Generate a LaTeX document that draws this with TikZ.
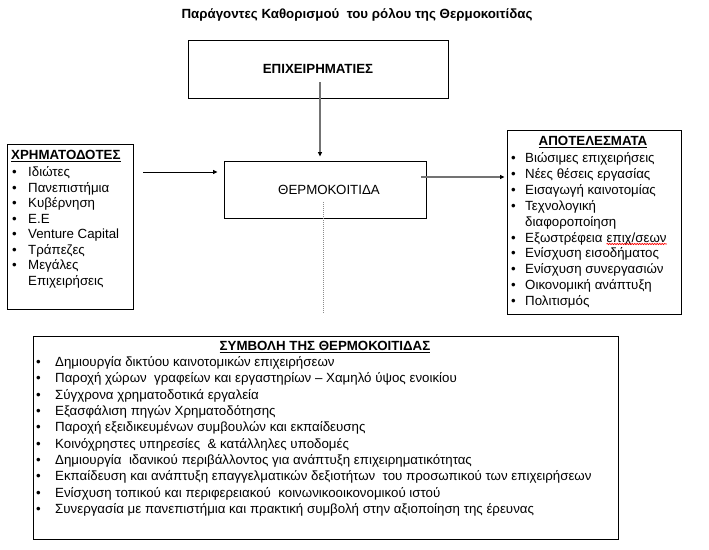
\documentclass[tikz,border=0pt]{standalone}
\usepackage{fontspec}
\setmainfont{Liberation Sans}
\usetikzlibrary{arrows.meta,decorations.pathmorphing}
\begin{document}
\begin{tikzpicture}[x=1pt,y=-1pt,
  font=\fontsize{13.3}{15.5}\selectfont,
  box/.style={draw, line width=1pt, inner sep=0pt},
  item/.style={anchor=base west, inner sep=0pt},
  bul/.style={anchor=base west, inner sep=0pt},
  hd/.style={inner sep=0pt, font=\fontsize{13.3}{15.5}\selectfont\bfseries},
  tipk/.style={-{Triangle[length=4.5pt,width=4pt,color=black]}},
  grayline/.style={draw=black!55, line width=1.3pt}]
\useasboundingbox (0,0) rectangle (709,549);

% title
\node[hd, anchor=base] (title) at (357,18) {Παράγοντες Καθορισμού\ \ του ρόλου της Θερμοκοιτίδας};

% main boxes
\node[box, minimum width=260pt, minimum height=58pt, font=\fontsize{13.3}{15.5}\selectfont\bfseries] (epi) at (318,69) {ΕΠΙΧΕΙΡΗΜΑΤΙΕΣ};
\node[box, minimum width=202pt, minimum height=57pt] (therm) at (325,189.5) {\hspace{8pt}ΘΕΡΜΟΚΟΙΤΙΔΑ};
\node[box, minimum width=126pt, minimum height=165pt] (chr) at (70,226.5) {};
\node[box, minimum width=174pt, minimum height=184pt] (apo) at (594,222) {};
\node[box, minimum width=585pt, minimum height=203pt] (sym) at (325.5,437.5) {};

% left list
\node[hd, anchor=base west] (chrh) at (11,159.6) {\underline{ΧΡΗΜΑΤΟΔΟΤΕΣ}};
\foreach \t [count=\i from 0] in {Ιδιώτες, Πανεπιστήμια, Κυβέρνηση, Ε.Ε, Venture Capital, Τράπεζες, Μεγάλες}{
  \node[bul] (lb\i) at (12,{176.5+15.5*\i}) {•};
  \node[item] (l\i) at (28,{176.5+15.5*\i}) {\t};
}
\node[item] (l7) at (28,{176.5+15.5*7}) {Επιχειρήσεις};

% right list
\node[hd, anchor=base] (apoh) at (593,145.6) {\underline{ΑΠΟΤΕΛΕΣΜΑΤΑ}};
\foreach \i in {0,1,2,3,5,6,7,8,9}{
  \node[bul] (rb\i) at (511,{162.5+15.9*\i}) {•};
}
\node[item] (r0) at (525,{162.5+15.9*0}) {Βιώσιμες επιχειρήσεις};
\node[item] (r1) at (525,{162.5+15.9*1}) {Νέες θέσεις εργασίας};
\node[item] (r2) at (525,{162.5+15.9*2}) {Εισαγωγή καινοτομίας};
\node[item] (r3) at (525,{162.5+15.9*3}) {Τεχνολογική};
\node[item] (r4) at (525,{162.5+15.9*4}) {διαφοροποίηση};
\node[item] (r5) at (525,{162.5+15.9*5}) {Εξωστρέφεια};
\node[item] (r5b) at ([xshift=3.7pt]r5.base east) {επιχ/σεων};
\node[item] (r6) at (525,{162.5+15.9*6}) {Ενίσχυση εισοδήματος};
\node[item] (r7) at (525,{162.5+15.9*7}) {Ενίσχυση συνεργασιών};
\node[item] (r8) at (525,{162.5+15.9*8}) {Οικονομική ανάπτυξη};
\node[item] (r9) at (525,{162.5+15.9*9}) {Πολιτισμός};
\draw[red, line width=0.6pt, decorate, decoration={snake, amplitude=0.7pt, segment length=2.5pt}]
  ([yshift=-2pt]r5b.base west) -- ([yshift=-2pt]r5b.base east);

% bottom list
\node[hd, anchor=base] (symh) at (325,350.6) {\underline{ΣΥΜΒΟΛΗ ΤΗΣ ΘΕΡΜΟΚΟΙΤΙΔΑΣ}};
\foreach \t [count=\i from 0] in {
  Δημιουργία δικτύου καινοτομικών επιχειρήσεων,
  Παροχή χώρων\ \ γραφείων και εργαστηρίων – Χαμηλό ύψος ενοικίου,
  Σύγχρονα χρηματοδοτικά εργαλεία,
  Εξασφάλιση πηγών Χρηματοδότησης,
  Παροχή εξειδικευμένων συμβουλών και εκπαίδευσης,
  Κοινόχρηστες υπηρεσίες\ \ \& κατάλληλες υποδομές,
  Δημιουργία\ \ ιδανικού περιβάλλοντος για ανάπτυξη επιχειρηματικότητας,
  Εκπαίδευση και ανάπτυξη επαγγελματικών δεξιοτήτων\ \ του προσωπικού των επιχειρήσεων,
  Ενίσχυση τοπικού και περιφερειακού\ \ κοινωνικοοικονομικού ιστού,
  Συνεργασία με πανεπιστήμια και πρακτική συμβολή στην αξιοποίηση της έρευνας}{
  \node[bul] (bb\i) at (36,{366.5+16.33*\i}) {•};
  \node[item] (b\i) at (55,{366.5+16.33*\i}) {\t};
}

% connectors
\coordinate (a1s) at (320,82);
\draw[grayline, tipk, shorten >=4pt] (a1s) -- (a1s |- therm.north);
\coordinate (a2s) at (143,172);
\draw[line width=0.9pt, tipk, shorten >=6pt] (a2s) -- (a2s -| therm.west);
\coordinate (a3s) at (421,177);
\draw[grayline, tipk, shorten >=2pt] (a3s) -- (a3s -| apo.west);
\coordinate (d1) at (323,202);
\coordinate (d2) at (323,313);
\draw[black!45, line width=1pt, dash pattern=on 1pt off 1pt] (d1) -- (d2);
\end{tikzpicture}
\end{document}
